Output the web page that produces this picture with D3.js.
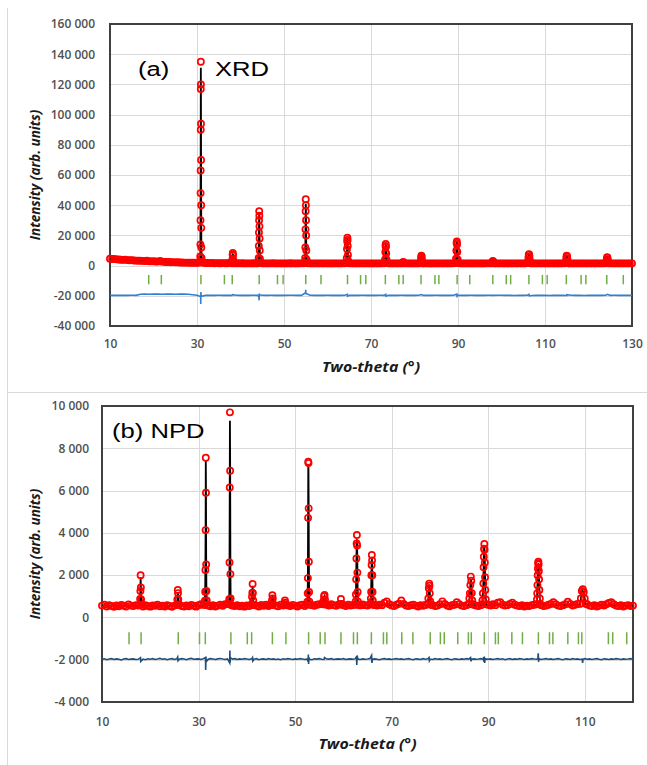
<!DOCTYPE html>
<html><head><meta charset="utf-8">
<script src="https://cdn.jsdelivr.net/npm/d3@7"></script>
<style>body{margin:0;background:#fff}svg{display:block}</style>
</head><body>
<svg id="c" width="647" height="765"></svg>
<script>
// ===================== DATA =====================
// ---- (a) XRD ----
const xrdXTicks = [10, 30, 50, 70, 90, 110, 130];
const xrdYTicks = [-40000, -20000, 0, 20000, 40000, 60000, 80000, 100000, 120000, 140000, 160000];
// observed intensity on a 0.5° grid from 10° (null = inside a peak, see peak lists)
const xrdObsGridStart = 10, xrdObsGridStep = 0.5;
const xrdObsGrid = [
 4600,4350,4450,4150,4050,3900,3800,3950,3650,3550,
 3600,3400,3300,3250,3300,3100,3000,3200,2900,2800,
 2900,2700,2650,3000,2600,2500,2350,2450,2250,2300,
 2150,2200,2050,2100,1950,2000,1950,1850,1900,1850,
 1850,1950,null,1900,1750,1700,1650,1700,1600,1650,
 1600,1550,1650,1600,1550,1700,1600,1550,1500,1550,
 1500,1550,1450,1500,1500,1450,1550,1500,1500,null,
 1550,1450,1500,1450,1500,1550,1450,1500,1450,1500,
 1450,1500,1450,1550,1450,1500,1450,1500,1500,1550,
 null,1550,1500,1450,1500,1450,1500,1450,1500,1450,
 1500,1450,1450,1500,1450,1500,1450,1500,1550,null,
 1550,1500,1450,1500,1450,1500,1450,1500,1450,1500,
 1450,1500,1450,1500,1450,1500,1550,null,1500,1450,
 1500,1450,1500,1450,1500,null,1500,1450,1500,1450,
 1450,1500,1450,null,1500,1450,1500,1450,1450,1500,
 1450,1500,1450,1500,1450,1500,1450,1500,1500,null,
 null,1500,1450,1500,1450,1500,1450,1450,1500,1450,
 1500,1450,1450,1500,1500,1550,null,1500,1450,1500,
 1450,1500,1450,1500,1450,1500,1450,1500,1450,1500,
 1450,1500,null,null,1550,1450,1500,1450,1500,1450,
 1500,1450,1500,1450,1500,1450,1500,1450,1500,1500,
 null,1550,1450,1500,1450,1500,1450,1500,1450,1500,
 1450,1500,1450,1500,1450,1500,1450,1500,null,null,
 1500,1450,1500,1450,1500,1450,1500,1450,1500,1450,
 1500];
// peak points (two-theta, observed, calculated)
const xrdPeakTheta = [
 30.70,30.75,30.78,30.80,30.82,30.84,30.86,30.87,30.88,30.90,30.92,30.94,30.96,30.98,31.00,31.04,31.10,
 38.08,38.14,38.19,38.24,38.29,38.35,38.42,
 44.12,44.17,44.21,44.24,44.27,44.30,44.33,44.36,44.39,44.43,44.47,44.55,
 54.82,54.87,54.91,54.94,54.97,55.00,55.03,55.06,55.09,55.13,55.18,55.26,
 64.35,64.43,64.48,64.53,64.57,64.61,64.65,64.70,64.76,64.86,
 73.15,73.23,73.29,73.34,73.39,73.44,73.50,73.56,73.66,
 77.25,77.35,77.42,77.50,77.62,
 81.35,81.45,81.52,81.58,81.64,81.71,81.80,81.90,
 89.45,89.55,89.62,89.68,89.73,89.78,89.84,89.92,90.02,
 97.80,97.90,98.00,98.10,98.20,98.32,
 106.00,106.12,106.20,106.27,106.34,106.42,106.50,106.60,106.72,
 114.70,114.82,114.90,114.98,115.06,115.14,115.24,115.36,
 124.00,124.12,124.20,124.28,124.36,124.44,124.54,124.66];
const xrdPeakObs = [
 2500,6000,14000,30000,48000,63000,90000,117000,135000,120000,94000,70000,40000,25000,12000,5000,2400,
 1900,4000,7200,8300,6800,3600,1800,
 2000,5000,13000,22000,30000,36000,33000,26000,18000,10000,4500,2000,
 1900,5000,12000,24000,36000,44000,40000,30000,20000,10000,4000,1800,
 1800,5000,11000,16000,18500,17000,13000,7000,3000,1700,
 1700,4000,9000,13000,14300,12500,8000,4000,1700,
 1600,2100,2400,2000,1600,
 1700,3000,5200,6500,6000,4000,2200,1600,
 1700,4500,10000,15000,16000,14000,9000,4000,1800,
 1600,2300,3000,2700,1900,1600,
 1700,3000,5500,7300,7600,6200,3800,2200,1600,
 1700,2800,5000,6500,6200,4500,2500,1600,
 1600,2600,4200,5500,5300,3900,2200,1600];
const xrdPeakCalc = [
 2200,5000,12000,28000,50000,70000,98000,120000,131000,122000,96000,69000,44000,26000,13000,5000,2300,
 1800,3800,7500,8000,6500,3500,1800,
 1900,5200,14000,23000,31000,35000,32000,25000,17000,9500,4500,2000,
 1900,5000,12500,23000,34000,41000,39000,30000,20000,10000,4200,1800,
 1800,5000,11000,16000,18000,17200,13000,7000,3200,1700,
 1700,4000,9000,13000,14000,12500,8200,4000,1700,
 1600,2000,2300,2000,1600,
 1700,3000,5300,6400,6000,4000,2200,1600,
 1700,4500,10000,14800,15500,14000,9200,4000,1800,
 1600,2200,2900,2700,1900,1600,
 1700,3000,5400,7200,7500,6200,3900,2200,1600,
 1700,2800,5000,6300,6200,4500,2500,1600,
 1600,2600,4200,5400,5300,3900,2200,1600];
// calculated background knots every 5° from 10°
const xrdCalcBgStart = 10, xrdCalcBgStep = 5;
const xrdCalcBg = [4500,3500,2800,2200,1850,1650,1550,1500,1500,null,1500,1500,1500,1500,1500,1500,null,1500,1500,1500,1500,null,1500,1500,1500];
// difference curve (offset), 1° grid from 10°
const xrdDiffGridStart = 10, xrdDiffGridStep = 1;
const xrdDiffGrid = [
 -19700,-19750,-19650,-19700,-19720,-19680,-19700,-18950,-18900,-18950,
 -18900,-18850,-18950,-18900,-18880,-18950,-18900,-18920,-18950,-19300,
 -19650,null,-19700,-19650,-19700,-19680,-19720,-19650,-19700,-19680,
 -19700,-19650,-19720,-19680,-19700,-19650,-19700,-19680,-19720,-19650,
 -19700,-19680,-19650,-19700,-19720,null,-19680,-19700,-19650,-19700,
 -19680,-19720,-19650,-19700,-19680,-19700,-19650,-19700,-19680,-19720,
 -19650,-19700,-19680,-19700,-19650,-19700,-19720,-19680,-19700,-19650,
 -19700,-19680,-19720,-19650,-19700,-19680,-19700,-19650,-19720,-19680,
 -19700,-19650,-19700,-19680,-19720,-19650,-19700,-19680,-19700,-19650,
 -19600,-19750,-19620,-19780,-19600,-19750,-19620,-19780,-19600,-19750,
 -19620,-19780,-19600,-19750,-19620,-19780,-19600,-19750,-19620,-19780,
 -19600,-19750,-19650,-19700,-19650,-19700,-19680,-19700,-19650,-19700,
 -19700];
const xrdDiffSpikeTheta = [30.84,30.86,30.88,30.90,30.93,30.97,38.20,44.24,44.28,44.31,44.35,54.97,55.00,55.03,64.57,64.61,73.39,73.45,81.58,89.73,89.78,106.30,106.40,115.03,124.30];
const xrdDiffSpikeVal = [-20500,-25500,-22000,-17500,-19000,-20300,-19200,-21000,-23000,-18500,-19300,-18000,-16000,-18500,-19000,-20300,-19000,-20200,-19200,-18900,-20300,-19000,-20100,-19200,-19000];
// Bragg reflection positions
const xrdBragg = [18.9,21.8,30.9,36.3,38.1,44.3,48.5,49.8,55.0,58.5,64.6,67.6,68.8,73.3,76.4,77.4,81.5,84.7,85.6,89.8,92.7,98.0,101.1,102.1,106.3,109.4,110.5,114.9,118.3,119.4,124.2,128.0];
const xrdBraggSpan = [-6200, -12400];

// ---- (b) NPD ----
const npdXTicks = [10, 30, 50, 70, 90, 110];
const npdYTicks = [-4000, -2000, 0, 2000, 4000, 6000, 8000, 10000];
const npdObsGridStart = 10, npdObsGridStep = 0.5;
const npdObsGrid = [
 560,600,520,580,540,500,570,530,590,550,
 520,610,560,540,580,560,null,520,580,540,
 510,570,550,600,530,560,520,580,540,500,
 560,null,600,540,520,570,530,590,550,510,
 580,620,600,null,560,530,580,520,560,600,
 550,620,640,null,560,540,580,530,560,510,
 570,540,null,580,560,520,590,550,600,540,
 580,null,560,530,600,560,null,570,540,590,
 560,520,580,600,540,null,null,580,550,600,
 620,640,null,600,560,620,580,550,600,null,
 580,540,600,560,590,null,null,570,610,580,
 560,620,null,590,560,600,580,700,760,620,
 570,540,600,650,800,640,560,540,580,600,
 560,520,580,550,590,null,null,580,540,560,
 620,760,640,560,530,580,600,720,620,560,
 540,580,null,null,600,560,540,580,null,null,
 600,560,620,580,700,720,600,560,580,640,
 700,600,560,540,580,520,560,540,580,600,
 null,null,580,540,560,600,640,720,620,560,
 540,580,620,740,640,560,600,640,null,null,
 null,620,560,540,580,520,560,600,560,620,
 680,720,620,560,540,580,520,560,580,540,
 560];
const npdPeakTheta = [
 17.80,17.90,17.95,18.00,18.05,18.10,18.20,
 25.50,25.60,25.70,25.75,25.80,25.90,
 31.25,31.32,31.38,31.42,31.46,31.50,31.54,31.58,31.63,31.70,31.80,
 36.30,36.36,36.41,36.46,36.50,36.55,36.60,36.65,36.72,
 41.00,41.08,41.14,41.20,41.25,41.32,41.42,
 45.10,45.20,45.30,45.38,45.50,
 47.80,47.90,48.00,48.10,
 52.50,52.56,52.61,52.65,52.69,52.73,52.77,52.81,52.85,52.90,52.96,53.05,
 55.80,55.90,56.00,56.10,56.20,56.30,
 59.30,59.50,59.70,
 62.50,62.55,62.60,62.65,62.70,62.75,62.80,62.85,62.90,62.95,63.00,63.10,
 65.60,65.70,65.75,65.80,65.85,65.90,65.95,66.00,66.05,66.10,66.20,
 77.50,77.60,77.70,77.78,77.84,77.90,78.00,78.12,
 86.00,86.10,86.20,86.30,86.40,86.50,86.60,86.70,86.82,
 88.70,88.80,88.90,89.00,89.05,89.10,89.15,89.20,89.25,89.30,89.35,89.40,89.50,89.62,
 100.00,100.10,100.15,100.20,100.25,100.30,100.35,100.40,100.45,100.50,100.55,100.60,100.70,100.82,
 109.00,109.20,109.40,109.60,109.80,110.00,110.20];
const npdPeakObs = [
 600,870,1250,2000,1420,850,600,
 600,850,1300,1150,850,600,
 600,790,1215,2240,4130,7550,5900,2500,1250,800,580,
 620,860,2600,6150,9700,6940,2050,900,600,
 620,980,1170,1580,1150,800,580,
 600,800,1050,900,620,
 620,800,700,580,
 620,740,1140,1860,4710,7360,7300,5160,2630,1200,740,600,
 620,800,1000,1060,850,640,
 640,870,640,
 600,750,1090,1800,2790,3500,3900,3400,2120,1200,750,600,
 620,900,1210,2000,2480,2950,2700,2000,1200,800,600,
 620,900,1380,1600,1500,1140,750,600,
 620,900,1140,1530,1930,1740,1150,800,620,
 620,800,1140,1610,2370,2870,3250,3470,3200,2600,1900,1300,850,620,
 620,850,1140,1530,2000,2320,2560,2630,2500,2200,1800,1300,900,620,
 640,900,1250,1330,1200,900,650];
const npdPeakCalc = [
 560,800,1300,1900,1500,900,580,
 570,800,1200,1150,850,580,
 570,800,1300,2400,4200,7400,6100,2900,1300,750,570,
 580,800,2400,6000,9300,7200,2300,900,580,
 580,950,1200,1500,1200,800,570,
 570,780,1000,920,580,
 570,700,650,570,
 580,750,1200,1900,4500,7200,7100,5400,2800,1300,750,580,
 580,780,950,1000,850,600,
 600,780,600,
 580,750,1100,1700,2700,3400,3700,3500,2500,1400,800,580,
 580,850,1200,1900,2600,2800,2600,2100,1300,850,580,
 580,850,1300,1550,1500,1200,800,580,
 580,850,1100,1500,1800,1700,1200,800,580,
 580,780,1100,1600,2300,2900,3300,3350,3150,2700,2000,1400,850,600,
 580,800,1100,1500,1950,2300,2500,2550,2500,2250,1850,1400,900,600,
 600,880,1200,1250,1180,880,620];
const npdCalcBgStart = 10, npdCalcBgStep = 5;
const npdCalcBg = [560,560,560,560,565,570,570,570,570,575,575,575,575,575,575,575,575,575,null,575,null,570,565];
const npdDiffGridStart = 10, npdDiffGridStep = 0.5;
const npdDiffGrid = [
 -1980,-1960,-2000,-1970,-1950,-1990,-1960,-1980,-2010,-1970,
 -1950,-1990,-1970,-1960,-1990,-1980,-1950,-1970,-2000,-1960,
 -1980,-1950,-1990,-1970,-1940,-1980,-1960,-2000,-1970,-1950,
 -1990,-1960,-1980,-1950,-1970,-2000,-1960,-1940,-1980,-1970,
 -1960,-1990,-1950,null,-1980,-1950,-1970,-1990,-1960,-1940,
 -1970,-1990,-1960,null,-1970,-1950,-1990,-1960,-1980,-1950,
 -1970,-1990,-1960,-1980,-1950,-2000,-1970,-1960,-1990,-1950,
 -1980,-1960,-1990,-1970,-2000,-1960,-1980,-1950,-1970,-1990,
 -1960,-1980,-1950,-1970,-1990,-1960,-1980,-2000,-1960,-1970,
 -1950,-1980,-1990,-1960,-1970,-1950,-1990,-1970,-1960,-1980,
 -1950,-1990,-1970,-1960,-1980,-1950,-1970,-1990,-1960,-1980,
 -1970,-1950,-1990,-1960,-1980,-2000,-1970,-1950,-1980,-1960,
 -1990,-1970,-1950,-1980,-1960,-1990,-1970,-1950,-1980,-2000,
 -1960,-1970,-1990,-1950,-1980,-1960,-1970,-1990,-1950,-1980,
 -1960,-1990,-1970,-1950,-1980,-2000,-1960,-1970,-1990,-1960,
 -1980,-1950,-1970,-1990,-1960,-1980,-1970,-1950,-1990,-1960,
 -1980,-1960,-1990,-1970,-1950,-1980,-1960,-2000,-1970,-1950,
 -1990,-1960,-1980,-1950,-1970,-1990,-1960,-1980,-1950,-1970,
 -1980,-1960,-1990,-1970,-1950,-1980,-1960,-1990,-1970,-1950,
 -1980,-2000,-1960,-1970,-1990,-1950,-1980,-1960,-1990,-1970,
 -1950,-1980,-1960,-1990,-1970,-1950,-1980,-2000,-1960,-1970,
 -1990,-1960,-1980,-1950,-1970,-1990,-1960,-1980,-1970,-1950,
 -1980];
const npdDiffSpikeTheta = [17.97,18.03,25.68,25.75,31.44,31.48,31.53,31.58,36.45,36.49,36.54,36.58,41.18,41.24,52.70,52.75,52.80,52.86,56.10,62.72,62.78,62.85,65.85,65.92,77.75,77.82,86.35,86.45,89.05,89.12,89.20,89.27,89.35,100.30,100.37,100.44,100.52,109.55,109.65];
const npdDiffSpikeVal = [-1900,-2080,-1880,-2050,-1900,-2480,-1850,-2100,-2150,-1570,-2150,-1900,-1900,-2060,-2100,-1750,-2200,-1900,-1900,-1850,-2250,-1800,-1800,-2150,-1900,-2050,-1900,-2080,-1880,-2100,-1850,-2150,-1950,-1950,-1700,-2100,-1950,-2150,-1980];
const npdBragg = [15.6,18.1,25.8,30.2,31.4,36.7,40.1,41.0,45.3,48.1,52.8,55.2,56.2,59.5,62.1,62.9,65.8,68.3,69.0,72.1,74.4,78.0,80.1,80.9,83.7,85.9,86.5,89.2,91.5,92.1,94.9,97.1,100.4,102.7,103.4,106.5,108.7,109.4,114.9,115.8,118.7];
const npdBraggSpan = [-700, -1270];

// ===================== RENDER =====================
const svg = d3.select("#c");
const FONT = "'Open Sans', 'Liberation Sans', sans-serif";

function merge(start, step, grid, extraT, extraV) {
  const pts = [];
  grid.forEach((v, i) => { if (v !== null) pts.push([start + i * step, v]); });
  extraT.forEach((t, i) => pts.push([t, extraV[i]]));
  pts.sort((a, b) => a[0] - b[0]);
  return pts;
}
function fmt(v) {
  const s = d3.format(",")(Math.abs(v)).replace(/,/g, " ");
  return (v < 0 ? "-" : "") + s;
}

// outer chart frame lines
svg.append("line").attr("x1", 7.5).attr("x2", 7.5).attr("y1", 8).attr("y2", 765).attr("stroke", "#d9d9d9");
svg.append("line").attr("x1", 7).attr("x2", 647).attr("y1", 392.5).attr("y2", 392.5).attr("stroke", "#d9d9d9");

function panel(cfg) {
  const x = d3.scaleLinear().domain(cfg.xDomain).range([cfg.left, cfg.right]);
  const y = d3.scaleLinear().domain(cfg.yDomain).range([cfg.bottom, cfg.top]);
  const g = svg.append("g");
  const r = v => Math.round(v) + 0.5;

  // grid
  g.append("g").selectAll("line").data(cfg.yTicks).join("line")
    .attr("x1", cfg.left).attr("x2", cfg.right)
    .attr("y1", d => r(y(d))).attr("y2", d => r(y(d)))
    .attr("stroke", "#d9d9d9").attr("stroke-width", 1);
  g.append("g").selectAll("line").data(cfg.xTicks).join("line")
    .attr("y1", cfg.top).attr("y2", cfg.bottom)
    .attr("x1", d => r(x(d))).attr("x2", d => r(x(d)))
    .attr("stroke", "#d9d9d9").attr("stroke-width", 1);

  // axes labels
  const ya = g.append("g").attr("transform", `translate(${cfg.left},0)`)
    .call(d3.axisLeft(y).tickValues(cfg.yTicks).tickSize(0).tickPadding(cfg.yPad).tickFormat(fmt));
  ya.select(".domain").remove();
  ya.selectAll("text").attr("font-family", FONT).attr("font-size", 12).attr("font-weight", 600).attr("fill", "#505050");
  const xa = g.append("g").attr("transform", `translate(0,${cfg.bottom})`)
    .call(d3.axisBottom(x).tickValues(cfg.xTicks).tickSize(0).tickPadding(cfg.xPad).tickFormat(d3.format("d")));
  xa.select(".domain").remove();
  xa.selectAll("text").attr("font-family", FONT).attr("font-size", 12).attr("font-weight", 600).attr("fill", "#505050");

  // border
  g.append("rect").attr("x", cfg.left).attr("y", cfg.top)
    .attr("width", cfg.right - cfg.left).attr("height", cfg.bottom - cfg.top)
    .attr("fill", "none").attr("stroke", "#404040").attr("stroke-width", 2);

  // axis titles
  g.append("text").attr("transform", `translate(${(cfg.left + cfg.right) / 2},${cfg.bottom + cfg.titleGap}) scale(1.18,1)`)
    .attr("text-anchor", "middle").attr("font-family", FONT).attr("font-size", 13.5)
    .attr("font-weight", 700).attr("font-style", "italic").attr("fill", "#1a1a1a")
    .text("Two-theta (°)");
  g.append("text").attr("transform", `translate(35,${(cfg.top + cfg.bottom) / 2}) rotate(-90)`)
    .attr("text-anchor", "middle").attr("dominant-baseline", "central")
    .attr("font-family", FONT).attr("font-size", 13.5)
    .attr("font-weight", 700).attr("font-style", "italic").attr("fill", "#1a1a1a")
    .text("Intensity (arb. units)");

  // difference curve
  g.append("path").datum(cfg.diff)
    .attr("d", d3.line().x(d => x(d[0])).y(d => y(d[1])))
    .attr("fill", "none").attr("stroke", cfg.diffColor).attr("stroke-width", 1.6);

  // Bragg ticks
  g.append("g").selectAll("line").data(cfg.bragg).join("line")
    .attr("x1", d => x(d)).attr("x2", d => x(d))
    .attr("y1", y(cfg.braggSpan[0])).attr("y2", y(cfg.braggSpan[1]))
    .attr("stroke", "#70ad47").attr("stroke-width", 1.5);

  // calculated line
  g.append("path").datum(cfg.calc)
    .attr("d", d3.line().x(d => x(d[0])).y(d => y(d[1])))
    .attr("fill", "none").attr("stroke", "#000").attr("stroke-width", 1.8);

  // observed circles
  g.append("g").selectAll("circle").data(cfg.obs).join("circle")
    .attr("cx", d => x(d[0])).attr("cy", d => y(d[1])).attr("r", 3.1)
    .attr("fill", "none").attr("stroke", "#ff0000").attr("stroke-width", 1.7);

  // panel label
  cfg.labels.forEach(l => {
    g.append("text").attr("transform", `translate(${l.x},${l.y}) scale(1.22,1)`)
      .attr("font-family", "'Liberation Sans', Arial, sans-serif").attr("font-size", 21)
      .attr("fill", "#000").text(l.text);
  });
}

panel({
  left: 110, right: 632, top: 24, bottom: 326, yPad: 15, xPad: 13, titleGap: 46,
  xDomain: [10, 130], yDomain: [-40000, 160000], xTicks: xrdXTicks, yTicks: xrdYTicks,
  obs: merge(xrdObsGridStart, xrdObsGridStep, xrdObsGrid, xrdPeakTheta, xrdPeakObs),
  calc: merge(xrdCalcBgStart, xrdCalcBgStep, xrdCalcBg, xrdPeakTheta, xrdPeakCalc),
  diff: merge(xrdDiffGridStart, xrdDiffGridStep, xrdDiffGrid, xrdDiffSpikeTheta, xrdDiffSpikeVal),
  diffColor: "#2f80d0", bragg: xrdBragg, braggSpan: xrdBraggSpan,
  labels: [{ text: "(a)", x: 138, y: 76 }, { text: "XRD", x: 215, y: 76 }]
});
panel({
  left: 102, right: 633, top: 406, bottom: 702, yPad: 13, xPad: 15, titleGap: 47,
  xDomain: [10, 120], yDomain: [-4000, 10000], xTicks: npdXTicks, yTicks: npdYTicks,
  obs: merge(npdObsGridStart, npdObsGridStep, npdObsGrid, npdPeakTheta, npdPeakObs),
  calc: merge(npdCalcBgStart, npdCalcBgStep, npdCalcBg, npdPeakTheta, npdPeakCalc),
  diff: merge(npdDiffGridStart, npdDiffGridStep, npdDiffGrid, npdDiffSpikeTheta, npdDiffSpikeVal),
  diffColor: "#1f4e79", bragg: npdBragg, braggSpan: npdBraggSpan,
  labels: [{ text: "(b) NPD", x: 112, y: 438 }]
});
</script>
</body></html>
